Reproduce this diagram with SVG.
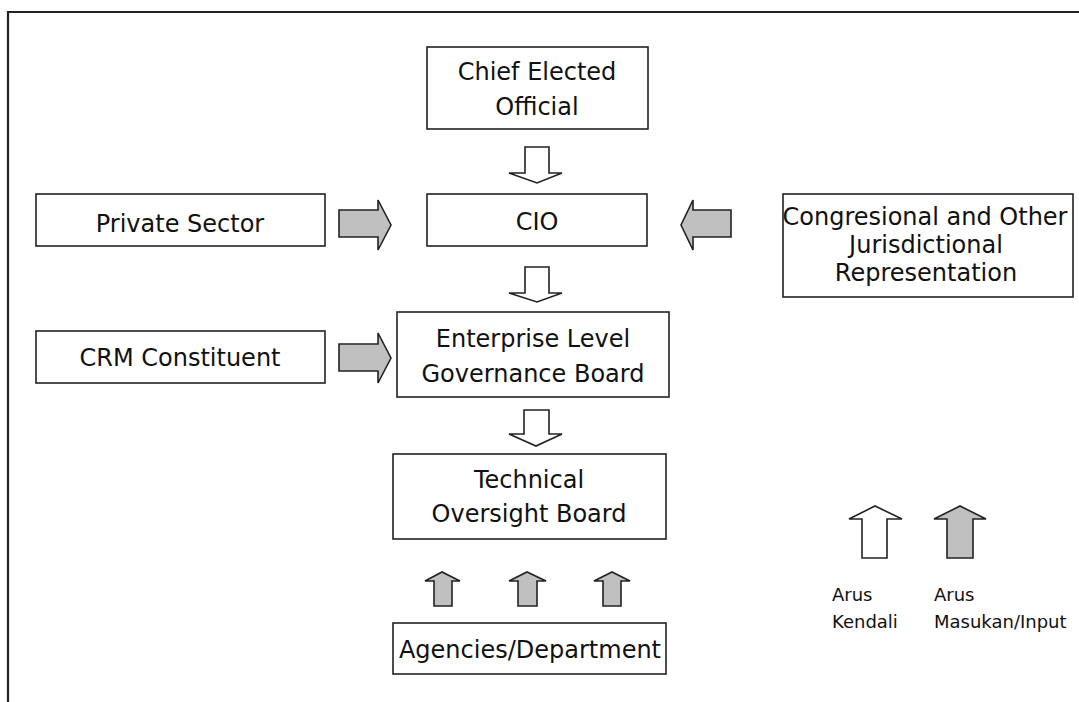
<svg xmlns="http://www.w3.org/2000/svg" width="1079" height="702" viewBox="0 0 1079 702">
<style>
.box{fill:#fff;stroke:#222;stroke-width:1.6}
.t{font-family:"DejaVu Sans",sans-serif;font-size:24px;fill:#111;text-anchor:middle}
.lg{font-family:"DejaVu Sans",sans-serif;font-size:18px;fill:#111}
.aw{fill:#fff;stroke:#222;stroke-width:1.6;stroke-linejoin:miter}
.ag{fill:#c0c0c0;stroke:#222;stroke-width:1.6;stroke-linejoin:miter}
</style>
<rect width="1079" height="702" fill="#fff"/>
<path d="M8,702 V12 H1079" fill="none" stroke="#222" stroke-width="2.2"/>

<g id="chief">
<rect class="box" x="427" y="47" width="221" height="82"/>
<text class="t" x="537" y="80">Chief Elected</text>
<text class="t" x="537" y="115">Official</text>
</g>
<g id="private">
<rect class="box" x="36" y="194" width="289" height="52"/>
<text class="t" x="180" y="232">Private Sector</text>
</g>
<g id="cio">
<rect class="box" x="427" y="194" width="220" height="52"/>
<text class="t" x="537" y="230">CIO</text>
</g>
<g id="congress">
<rect class="box" x="783" y="194" width="290" height="103"/>
<text class="t" x="925" y="225">Congresional and Other</text>
<text class="t" x="926" y="253">Jurisdictional</text>
<text class="t" x="926" y="281">Representation</text>
</g>
<g id="crm">
<rect class="box" x="36" y="331" width="289" height="52"/>
<text class="t" x="180" y="366">CRM Constituent</text>
</g>
<g id="enterprise">
<rect class="box" x="397" y="312" width="272" height="85"/>
<text class="t" x="533" y="347">Enterprise Level</text>
<text class="t" x="533" y="382">Governance Board</text>
</g>
<g id="technical">
<rect class="box" x="393" y="454" width="273" height="85"/>
<text class="t" x="529" y="488">Technical</text>
<text class="t" x="529" y="522">Oversight Board</text>
</g>
<g id="agencies">
<rect class="box" x="393" y="623" width="273" height="51"/>
<text class="t" x="530" y="658">Agencies/Department</text>
</g>

<g id="connectors">
<path class="aw" d="M525,147 H549 V173 H562 L537,183 L509,173 H525 Z"/>
<path class="aw" d="M525,267 H549 V293 H562 L537,302 L509,293 H525 Z"/>
<path class="aw" d="M524,410 H549 V434 H562 L536,446 L509,434 H524 Z"/>
<path class="ag" d="M339,210 H378 V200 L391,225 L378,250 V237 H339 Z"/>
<path class="ag" d="M731,210 H693 V200 L681,225 L693,250 V237 H731 Z"/>
<path class="ag" d="M339,344 H378 V333 L391,358 L378,383 V371 H339 Z"/>
<path class="ag" d="M434,606 V581 H425 L442,572 L460,581 H452 V606 Z"/>
<path class="ag" d="M518,606 V581 H509 L527,572 L546,581 H537 V606 Z"/>
<path class="ag" d="M603,606 V581 H594 L612,572 L630,581 H621 V606 Z"/>
</g>

<g id="legend">
<path class="aw" d="M862,558 V519 H849 L875,506 L902,519 H887 V558 Z"/>
<path class="ag" d="M947,558 V519 H934 L960,506 L986,519 H973 V558 Z"/>
<text class="lg" x="832" y="601">Arus</text>
<text class="lg" x="832" y="628">Kendali</text>
<text class="lg" x="934" y="601">Arus</text>
<text class="lg" x="934" y="628">Masukan/Input</text>
</g>
</svg>
